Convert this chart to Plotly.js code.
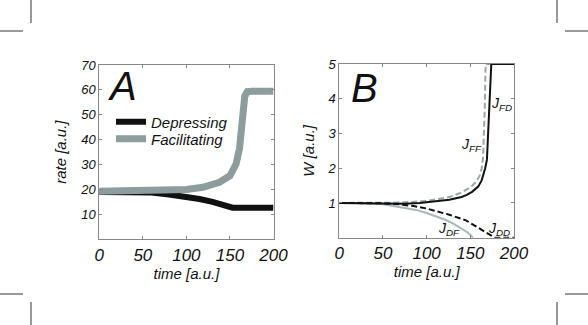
<!DOCTYPE html>
<html>
<head>
<meta charset="utf-8">
<script src="https://cdn.plot.ly/plotly-3.0.1.min.js"></script>
<style>
  html, body { margin: 0; padding: 0; background: #fff; }
  #chart { width: 588px; height: 325px; }
</style>
</head>
<body>
<div id="chart"></div>
<script>
// panel A: firing rates
const tDep = [0, 30, 60, 80, 100, 115, 130, 145, 153, 170, 200];
const rateDep = [19, 19, 18.8, 18, 17.2, 16.2, 15, 13.6, 12.7, 12.7, 12.7];
const tFac = [0, 40, 80, 100, 119, 138, 150, 157, 161, 163, 164.5, 167, 170, 175, 200];
const rateFac = [19.3, 19.3, 19.6, 20, 20.9, 22.9, 25.5, 30.2, 36.5, 46, 54.5, 57.5, 59.3, 59.5, 59.5];

// panel B: weights
const tFD = [0, 50, 75, 92, 110, 126, 140, 146, 152, 159, 163, 165, 167, 169, 170, 171.5, 173, 174, 200];
const wFD = [1, 0.98, 0.98, 1.0, 1.04, 1.09, 1.17, 1.23, 1.32, 1.47, 1.65, 1.8, 2.0, 2.24, 2.8, 3.7, 4.6, 5, 5];
const tFF = [0, 50, 70, 100, 126, 140, 151, 157, 161, 163, 164.6, 165.5, 166.5, 167.5, 200];
const wFF = [1, 1.0, 1.01, 1.06, 1.17, 1.3, 1.47, 1.62, 1.8, 2.0, 2.3, 3.0, 3.7, 5, 5];
const tDD = [0, 50, 69, 85, 100, 113, 126, 145, 157, 170, 176, 178, 200];
const wDD = [1, 0.99, 0.96, 0.91, 0.84, 0.76, 0.66, 0.5, 0.32, 0.12, 0.02, 0, 0];
const tDF = [0, 30, 50, 69, 88, 100, 111, 122, 131, 140, 147, 150, 153];
const wDF = [1, 0.99, 0.96, 0.89, 0.8, 0.71, 0.62, 0.51, 0.4, 0.27, 0.15, 0.08, 0];

const xTicks = [0, 50, 100, 150, 200];
const rateTicks = [10, 20, 30, 40, 50, 60, 70];
const wTicks = [1, 2, 3, 4, 5];

const FONT = "Liberation Sans, Arial, sans-serif";
const gray = "#8d9c9c";

const traces = [
    { x: tDep, y: rateDep, type: "scatter", mode: "lines", name: "Depressing", legend: "legend",
      line: { color: "#111", width: 6 }, xaxis: "x", yaxis: "y" },
    { x: tFac, y: rateFac, type: "scatter", mode: "lines", name: "Facilitating", legend: "legend2",
      line: { color: gray, width: 7 }, xaxis: "x", yaxis: "y" },
    { x: tDF, y: wDF, type: "scatter", mode: "lines", showlegend: false,
      line: { color: "#a9b9b9", width: 2 }, xaxis: "x2", yaxis: "y2" },
    { x: tFF, y: wFF, type: "scatter", mode: "lines", showlegend: false,
      line: { color: "#9aa8a8", width: 2, dash: "6px,3px" }, xaxis: "x2", yaxis: "y2" },
    { x: tFD, y: wFD, type: "scatter", mode: "lines", showlegend: false,
      line: { color: "#111", width: 2 }, xaxis: "x2", yaxis: "y2" },
    { x: tDD, y: wDD, type: "scatter", mode: "lines", showlegend: false,
      line: { color: "#111", width: 2, dash: "6px,3px" }, xaxis: "x2", yaxis: "y2" }
];

function xAxis(domain, anchor) {
    return {
        domain: domain, anchor: anchor, range: [0, 200],
        tickvals: xTicks, ticks: "inside", ticklen: 3, tickcolor: "#888",
        showline: true, linecolor: "#888", linewidth: 1, mirror: "ticks",
        showgrid: false, zeroline: false, automargin: false,
        tickfont: { family: FONT, size: 17, style: "italic", color: "#111" },
        title: { text: "time [a.u.]", standoff: 3,
                 font: { family: FONT, size: 15, style: "italic", color: "#111" } }
    };
}

function yAxis(domain, anchor, range, ticks, title) {
    return {
        domain: domain, anchor: anchor, range: range,
        tickvals: ticks, ticks: "inside", ticklen: 3, tickcolor: "#888",
        showline: true, linecolor: "#888", linewidth: 1, mirror: "ticks",
        showgrid: false, zeroline: false, automargin: false,
        tickfont: { family: FONT, size: 13, style: "italic", color: "#111" },
        title: { text: title, standoff: 9,
                 font: { family: FONT, size: 15, style: "italic", color: "#111" } }
    };
}

function mark(x0, y0, x1, y1) {
    return { type: "line", xref: "paper", yref: "paper",
             x0: x0 / 588, x1: x1 / 588, y0: 1 - y0 / 325, y1: 1 - y1 / 325,
             line: { color: "#777", width: 1.5 } };
}

function legendAt(yPx) {
    return {
        x: 111 / 588, y: 1 - yPx / 325, xanchor: "left", yanchor: "middle",
        bgcolor: "rgba(0,0,0,0)",
        font: { family: FONT, size: 15, style: "italic", color: "#111" }
    };
}

const labelFont = { family: FONT, size: 14, style: "italic", color: "#111" };

const layout = {
    width: 588, height: 325,
    margin: { l: 0, r: 0, t: 0, b: 0 },
    paper_bgcolor: "#fff", plot_bgcolor: "#fff",
    font: { family: FONT, color: "#111" },
    xaxis: xAxis([99.3 / 588, 273.5 / 588], "y"),
    yaxis: yAxis([1 - 239.3 / 325, 1 - 65 / 325], "x", [0, 70], rateTicks, "rate [a.u.]"),
    xaxis2: xAxis([339.3 / 588, 514 / 588], "y2"),
    yaxis2: yAxis([1 - 237.7 / 325, 1 - 64 / 325], "x2", [0, 5], wTicks, "W [a.u.]"),
    showlegend: true,
    legend: legendAt(122),
    legend2: legendAt(139),
    annotations: [
        { xref: "x", yref: "y", x: 27, y: 61.6, text: "A", showarrow: false,
          font: { family: FONT, size: 40, style: "italic", color: "#111" } },
        { xref: "x2", yref: "y2", x: 29.4, y: 4.31, text: "B", showarrow: false,
          font: { family: FONT, size: 40, style: "italic", color: "#111" } },
        { xref: "x2", yref: "y2", x: 185.5, y: 3.85, text: "J<sub>FD</sub>", showarrow: false, font: labelFont },
        { xref: "x2", yref: "y2", x: 151, y: 2.68, text: "J<sub>FF</sub>", showarrow: false, font: labelFont },
        { xref: "x2", yref: "y2", x: 125.4, y: 0.24, text: "J<sub>DF</sub>", showarrow: false, font: labelFont },
        { xref: "x2", yref: "y2", x: 183, y: 0.24, text: "J<sub>DD</sub>", showarrow: false, font: labelFont }
    ],
    shapes: [
        mark(31, 0, 31, 23), mark(0, 31, 23, 31),
        mark(557, 0, 557, 23), mark(565, 31, 588, 31),
        mark(0, 294, 23, 294), mark(31, 302, 31, 325),
        mark(565, 294, 588, 294), mark(557, 302, 557, 325)
    ]
};

Plotly.newPlot("chart", traces, layout, { displayModeBar: false, staticPlot: true });
</script>
</body>
</html>
